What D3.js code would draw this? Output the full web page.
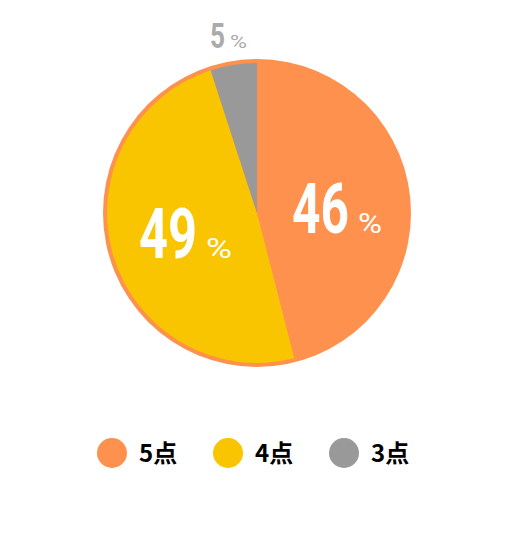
<!DOCTYPE html>
<html>
<head>
<meta charset="utf-8">
<script src="https://cdn.jsdelivr.net/npm/d3@7"></script>
<style>
  body { margin: 0; background: #fff; }
  svg { display: block; }
</style>
</head>
<body>
<svg id="chart" width="512" height="546"></svg>
<script>
let categories = ['5点', '4点', '3点'],
	values = [46, 49, 5],
	colors = ['#fe914d', '#f9c400', '#999999'];

let svg = d3.select('#chart'),
	cx = 257,
	cy = 213,
	ringR = 154,
	pieR = 150,
	numFont = 'Roboto, sans-serif';

let pie = d3.pie().sort(null).value(d => d)(values);
let arc = d3.arc().innerRadius(0).outerRadius(pieR);

let g = svg.append('g')
	.attr('transform', `translate(${cx}, ${cy})`);

// orange ring behind the slices
g.append('circle')
	.attr('r', ringR)
	.attr('fill', colors[0]);

g.selectAll('.slice')
	.data(pie)
	.enter()
	.append('path')
	.attr('class', 'slice')
	.attr('d', arc)
	.attr('fill', (d, i) => colors[i]);

// label layout: big numbers inside, the small slice's label above the pie
let labelPos = [
	{ x: 35, y: 20, size: 70, len: 57, px: 101, pct: 28, plen: 24, fill: '#fff' },
	{ x: -118, y: 45, size: 70, len: 58, px: -51, pct: 28, plen: 26, fill: '#fff' },
	{ x: -47, y: -165, size: 36, len: 15, px: -27, pct: 18, plen: 17, fill: '#ababab' }
];

// condensed look: squeeze each text horizontally to its target width
function squeeze(sel, lenKey) {
	sel.each(function(d, i) {
		let p = labelPos[i],
			w = this.getComputedTextLength(),
			sx = p[lenKey] / w;
		d3.select(this).attr('transform', `scale(${sx}, 1)`);
	});
}

let numG = g.selectAll('.pct_num')
	.data(pie)
	.enter()
	.append('g')
	.attr('class', 'pct_num')
	.attr('transform', (d, i) => `translate(${labelPos[i].x}, ${labelPos[i].y})`);

numG.append('text')
	.attr('fill', (d, i) => labelPos[i].fill)
	.attr('font-family', numFont)
	.attr('font-weight', 'bold')
	.attr('font-size', (d, i) => labelPos[i].size)
	.text(d => d.data)
	.call(squeeze, 'len');

let pctG = g.selectAll('.pct_sign')
	.data(pie)
	.enter()
	.append('g')
	.attr('class', 'pct_sign')
	.attr('transform', (d, i) => `translate(${labelPos[i].px}, ${labelPos[i].y})`);

pctG.append('text')
	.attr('fill', (d, i) => labelPos[i].fill)
	.attr('font-family', numFont)
	.attr('font-size', (d, i) => labelPos[i].pct)
	.text('%')
	.call(squeeze, 'plen');

// legend
let legendX = d3.scalePoint()
	.domain(categories)
	.range([112, 344]);

let legend = svg.selectAll('.legend')
	.data(categories)
	.enter()
	.append('g')
	.attr('class', 'legend')
	.attr('transform', d => `translate(${legendX(d)}, 453)`);

legend.append('circle')
	.attr('r', 15)
	.attr('fill', (d, i) => colors[i]);

legend.append('text')
	.attr('x', 27)
	.attr('y', 9)
	.attr('font-family', '"Noto Sans CJK JP", sans-serif')
	.attr('font-weight', 'bold')
	.attr('font-size', 24)
	.attr('fill', '#000')
	.text(d => d);
</script>
</body>
</html>
